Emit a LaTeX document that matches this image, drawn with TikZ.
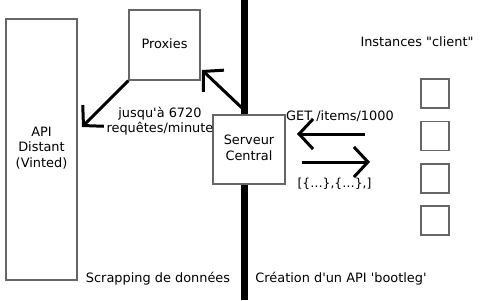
\documentclass[tikz,border=0pt]{standalone}
\usepackage{fontspec}
\setmainfont{DejaVu Sans}[Ligatures=TeXOff]
\usetikzlibrary{arrows.meta}
\begin{document}
\begin{tikzpicture}[x=1pt,y=-1pt,
  box/.style={draw=black!60, line width=1.4pt, fill=white, inner sep=0pt},
  lbl/.style={font=\fontsize{12.9}{15.5}\selectfont, align=center, inner sep=0pt},
  arr/.style={line width=3pt, -{Straight Barb[length=14pt,width=30pt,line width=3pt]}},
]
\useasboundingbox (0,0) rectangle (500,300);
% dividing wall between the two halves
\draw[line width=7pt] (244,0) coordinate (wt) -- (244,300) coordinate (wb);

% boxes
\node[box, minimum width=71pt, minimum height=261pt] (api) at (41.5,149.5) {};
\node[box, minimum width=71pt, minimum height=70pt] (prox) at (164.5,45) {};
\node[box, minimum width=72pt, minimum height=69pt] (srv) at (249,149.5) {};
\foreach \i/\y in {1/93.5,2/136,3/178.5,4/220.5}
  \node[box, minimum width=28pt, minimum height=29pt] (c\i) at (435,\y) {};

% labels
\node[lbl] (apit) at (41.5,148) {API\\Distant\\(Vinted)};
\node[lbl] (proxt) at (164.5,44) {Proxies};
\node[lbl] (srvt) at (249,148) {Serveur\\Central};
\node[lbl] (rate) at (160,121) {jusqu'à 6720\\requêtes/minute};
\node[lbl] (get) at (340,116) {GET /items/1000};
\node[lbl] (json) at (334.5,184) {\fontsize{12.4}{14}\selectfont[\{…\},\{…\},]};
\node[lbl] (inst) at (417,42) {Instances "client"};
\node[lbl] (scrap) at (158,279) {Scrapping de données};
\node[lbl] (boot) at (341,279) {Création d'un API 'bootleg'};

% connector end points
\coordinate (s1) at (242,108);
\coordinate (p1) at (202,70);
\coordinate (a1) at (82,127);
\coordinate (g1) at (365,134);
\coordinate (g2) at (297,134);
\coordinate (r1) at (302,162);
\coordinate (r2) at (370,162);

% connectors
\draw[arr] (s1) -- (p1);
\draw[arr] (prox.south west) -- (a1);
\draw[arr] (g1) -- (g2);
\draw[arr] (r1) -- (r2);
\end{tikzpicture}
\end{document}
